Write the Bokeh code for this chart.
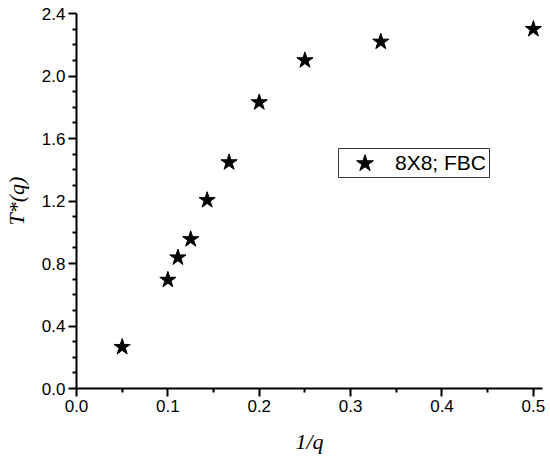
from bokeh.plotting import figure
from bokeh.models import (Legend, LegendItem, FixedTicker, BoxAnnotation,
                          PrintfTickFormatter, Range1d, ColumnDataSource)
from bokeh.embed import file_html
from bokeh.resources import INLINE

# ---- data ----
inv_q = [0.05, 0.1, 0.111, 0.125, 0.143, 0.167, 0.2, 0.25, 0.333, 0.5]
t_star = [0.265, 0.695, 0.838, 0.955, 1.205, 1.447, 1.831, 2.10, 2.219, 2.30]
series_name = "8X8; FBC"
x_title = "1/q"
y_title = "T*(q)"

x_major = [0.0, 0.1, 0.2, 0.3, 0.4, 0.5]
x_minor = [0.05, 0.15, 0.25, 0.35, 0.45]
y_major = [0.0, 0.4, 0.8, 1.2, 1.6, 2.0, 2.4]
y_minor = [0.1, 0.2, 0.3, 0.5, 0.6, 0.7, 0.9, 1.0, 1.1, 1.3, 1.4, 1.5,
           1.7, 1.8, 1.9, 2.1, 2.2, 2.3]

src = ColumnDataSource(data=dict(x=inv_q, y=t_star))

p = figure(width=550, height=458,
           x_range=Range1d(0, 0.51), y_range=Range1d(0, 2.4),
           output_backend="svg", toolbar_location=None,
           min_border_left=75, min_border_right=8,
           min_border_top=13, min_border_bottom=70)
p.outline_line_color = None
p.xgrid.visible = False
p.ygrid.visible = False
p.background_fill_color = "white"
p.border_fill_color = "white"

for ax, maj, mnr in ((p.xaxis[0], x_major, x_minor), (p.yaxis[0], y_major, y_minor)):
    ax.ticker = FixedTicker(ticks=maj, minor_ticks=mnr)
    ax.formatter = PrintfTickFormatter(format="%.1f")
    ax.axis_line_width = 2
    ax.axis_line_color = "black"
    ax.major_tick_line_width = 2
    ax.minor_tick_line_width = 2
    ax.major_tick_line_color = "black"
    ax.minor_tick_line_color = "black"
    ax.major_tick_in = 0
    ax.major_tick_out = 8
    ax.minor_tick_in = 0
    ax.minor_tick_out = 4
    ax.major_label_text_font = "Liberation Sans"
    ax.major_label_text_font_size = "17px"
    ax.major_label_text_color = "black"
    ax.major_label_standoff = 3
    ax.axis_label_text_font = "Liberation Serif"
    ax.axis_label_text_font_style = "italic"
    ax.axis_label_text_font_size = "22px"
    ax.axis_label_text_color = "black"

p.xaxis.axis_label = x_title
p.xaxis.axis_label_standoff = 14
p.yaxis.axis_label = y_title
p.yaxis.axis_label_standoff = 10

r = p.scatter("x", "y", source=src, marker="star", size=17,
              fill_color="black", line_color="black")

# legend frame (screen units relative to the plot frame)
box = BoxAnnotation(left=262, right=413, bottom=211, top=240,
                    left_units="screen", right_units="screen",
                    bottom_units="screen", top_units="screen",
                    fill_color="white", fill_alpha=1,
                    line_color="#333333", line_width=1, line_alpha=1)
p.add_layout(box)

legend = Legend(items=[LegendItem(label=series_name, renderers=[r])],
                location=(262, 203),
                padding=0, margin=0, spacing=0,
                glyph_width=53, glyph_height=44,
                label_standoff=4, label_height=20,
                label_text_font="Liberation Sans",
                label_text_font_size="21px",
                label_text_color="black",
                border_line_color=None,
                background_fill_alpha=0)
p.add_layout(legend)

open("out.html", "w").write(file_html(p, INLINE))
